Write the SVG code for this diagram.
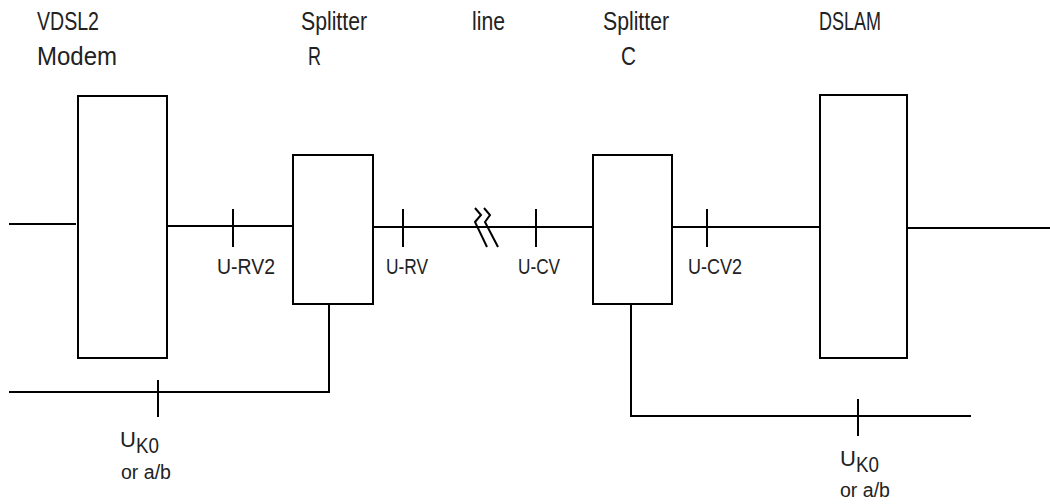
<svg xmlns="http://www.w3.org/2000/svg" width="1050" height="504" viewBox="0 0 1050 504">
<style>
.box{fill:#fff;stroke:#000;stroke-width:2}
.ln{fill:none;stroke:#000;stroke-width:2}
.t{font-family:"Liberation Sans",Arial,sans-serif;fill:#222}
.top{font-size:25px}
.lab{font-size:22px}
.sm{font-size:20px}
</style>
<rect width="1050" height="504" fill="#fff"/>
<g id="connectors">
<line class="ln" x1="9" y1="224" x2="76" y2="224"/>
<line class="ln" x1="167" y1="226" x2="293" y2="226"/>
<line class="ln" x1="373" y1="227" x2="593" y2="227"/>
<line class="ln" x1="672" y1="227" x2="820" y2="227"/>
<line class="ln" x1="907" y1="228" x2="1050" y2="228"/>
<polyline class="ln" points="329,304 329,392 9,392"/>
<polyline class="ln" points="631,304 631,416 971,416"/>
<g id="ticks">
<line class="ln" x1="233" y1="209" x2="233" y2="247"/>
<line class="ln" x1="403" y1="209" x2="403" y2="247"/>
<line class="ln" x1="536" y1="209" x2="536" y2="247"/>
<line class="ln" x1="707" y1="209" x2="707" y2="247"/>
<line class="ln" x1="158" y1="380" x2="158" y2="417"/>
<line class="ln" x1="858" y1="399" x2="858" y2="436"/>
</g>
<g id="break">
<polyline class="ln" points="475,208 481,215 475,222 487,247"/>
<polyline class="ln" points="484,208 490,215 485,222 498,247"/>
</g>
</g>
<g id="modem">
<rect class="box" x="78" y="96" width="89" height="262"/>
<text class="t top" x="37" y="30" textLength="62" lengthAdjust="spacingAndGlyphs">VDSL2</text>
<text class="t top" x="37" y="65" textLength="80" lengthAdjust="spacingAndGlyphs">Modem</text>
</g>
<g id="splitter-r">
<rect class="box" x="293" y="155" width="80" height="149"/>
<text class="t top" x="301" y="30" textLength="66" lengthAdjust="spacingAndGlyphs">Splitter</text>
<text class="t top" x="308" y="65" textLength="13" lengthAdjust="spacingAndGlyphs">R</text>
</g>
<g id="line-label">
<text class="t top" x="472" y="30" textLength="33" lengthAdjust="spacingAndGlyphs">line</text>
</g>
<g id="splitter-c">
<rect class="box" x="593" y="155" width="79" height="149"/>
<text class="t top" x="603" y="30" textLength="66" lengthAdjust="spacingAndGlyphs">Splitter</text>
<text class="t top" x="621" y="65" textLength="15" lengthAdjust="spacingAndGlyphs">C</text>
</g>
<g id="dslam">
<rect class="box" x="820" y="95" width="87" height="263"/>
<text class="t top" x="819" y="30" textLength="62" lengthAdjust="spacingAndGlyphs">DSLAM</text>
</g>
<g id="labels">
<text class="t lab" x="217" y="274" textLength="58" lengthAdjust="spacingAndGlyphs">U-RV2</text>
<text class="t lab" x="386" y="274" textLength="42" lengthAdjust="spacingAndGlyphs">U-RV</text>
<text class="t lab" x="518" y="274" textLength="42" lengthAdjust="spacingAndGlyphs">U-CV</text>
<text class="t lab" x="688" y="274" textLength="54" lengthAdjust="spacingAndGlyphs">U-CV2</text>
<text class="t lab" x="120" y="447">U<tspan dy="6" textLength="23" lengthAdjust="spacingAndGlyphs">K0</tspan></text>
<text class="t sm" x="121" y="479" textLength="50" lengthAdjust="spacingAndGlyphs">or a/b</text>
<text class="t lab" x="840" y="466">U<tspan dy="6" textLength="23" lengthAdjust="spacingAndGlyphs">K0</tspan></text>
<text class="t sm" x="840" y="497" textLength="50" lengthAdjust="spacingAndGlyphs">or a/b</text>
</g>
</svg>
